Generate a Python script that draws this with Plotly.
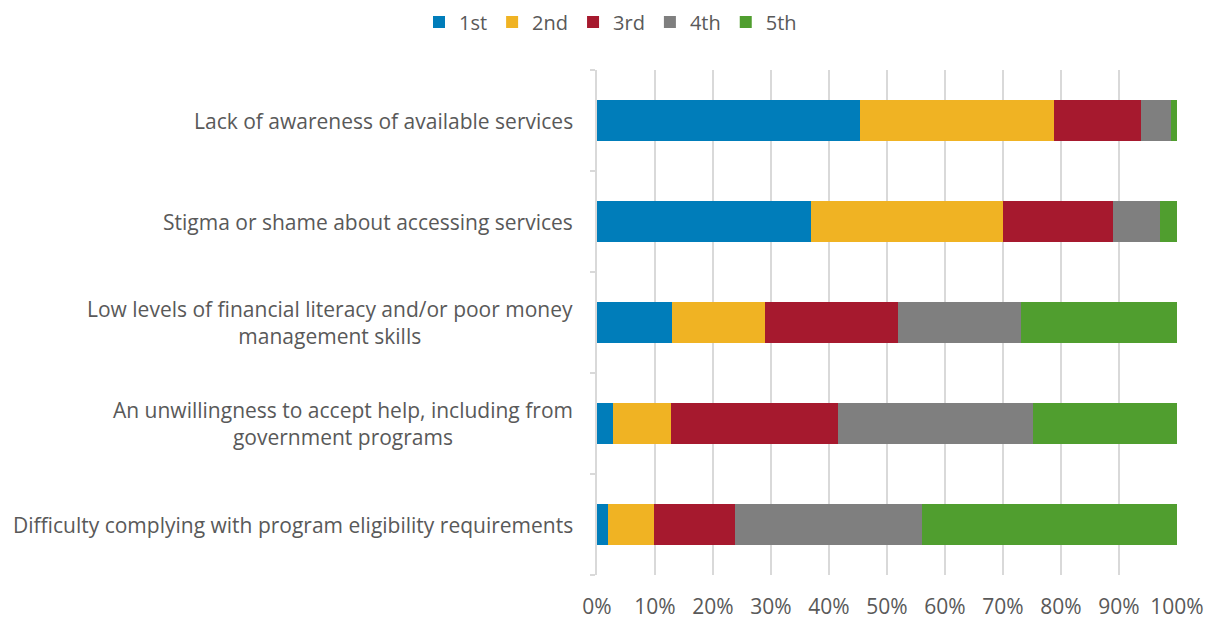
import plotly.graph_objects as go

categories = [
    "Lack of awareness of available services",
    "Stigma or shame about accessing services",
    "Low levels of financial literacy and/or poor money<br>management skills",
    "An unwillingness to accept help, including from<br>government programs",
    "Difficulty complying with program eligibility requirements",
]
ranks = ["1st", "2nd", "3rd", "4th", "5th"]

# share of respondents ranking each barrier 1st..5th (%), top row first
first = [45.4, 36.9, 12.9, 2.8, 1.9]
second = [33.4, 33.1, 16.0, 9.9, 8.0]
third = [15.0, 19.0, 23.0, 28.8, 13.9]
fourth = [5.2, 8.0, 21.2, 33.7, 32.2]
fifth = [1.0, 3.0, 26.9, 24.8, 44.0]

x_ticks = [0, 10, 20, 30, 40, 50, 60, 70, 80, 90, 100]

COLORS = ["#007DBA", "#F0B323", "#A6192E", "#7F7F7F", "#509E2F"]
TEXT = "#595959"
GRID = "#D9D9D9"
FONT = "Open Sans"
FS = 21

y_pos = list(range(len(categories)))

fig = go.Figure()
for name, vals, color in zip(ranks, [first, second, third, fourth, fifth], COLORS):
    fig.add_trace(go.Bar(
        y=y_pos, x=vals, name=name, orientation="h",
        marker=dict(color=color, line=dict(width=0)),
    ))

# category labels: centred multi-line text, right-aligned against the axis
for yi, label in zip(y_pos, categories):
    fig.add_annotation(
        x=0, xref="paper", xanchor="right", xshift=-22,
        y=yi, yref="y", yanchor="middle",
        text=label, showarrow=False, align="center",
        font=dict(family=FONT, size=FS, color=TEXT),
    )

# the page body has an 8px margin, so the figure is sized to fit inside it
fig.update_layout(
    barmode="stack",
    bargap=0.6,
    width=1205, height=614,
    paper_bgcolor="white", plot_bgcolor="white",
    margin=dict(l=589, r=36, t=62, b=47, autoexpand=False),
    font=dict(family=FONT, size=FS, color=TEXT),
    legend=dict(
        orientation="h", x=0.5, xref="container", xanchor="center",
        y=0.977, yref="container", yanchor="middle",
        font=dict(family=FONT, size=20, color=TEXT),
        itemwidth=30, traceorder="normal",
    ),
    xaxis=dict(
        range=[0, 100], tickvals=x_ticks,
        ticktext=[f"{v}%" for v in x_ticks],
        showgrid=True, gridcolor=GRID, gridwidth=1.5,
        zeroline=False, showline=False, ticks="",
        tickfont=dict(family=FONT, size=FS, color=TEXT),
        ticklabelstandoff=17, automargin=False,
    ),
    yaxis=dict(
        range=[len(categories) - 0.5, -0.5],
        tickvals=y_pos, showticklabels=False, ticks="",
        showgrid=False, zeroline=False, automargin=False,
        showline=True, linecolor=GRID, linewidth=1.5,
        minor=dict(
            tickvals=[v - 0.5 for v in range(len(categories) + 1)],
            ticks="outside", ticklen=5, tickcolor=GRID, tickwidth=1.5,
            showgrid=False,
        ),
    ),
)

fig.write_html("out.html")
